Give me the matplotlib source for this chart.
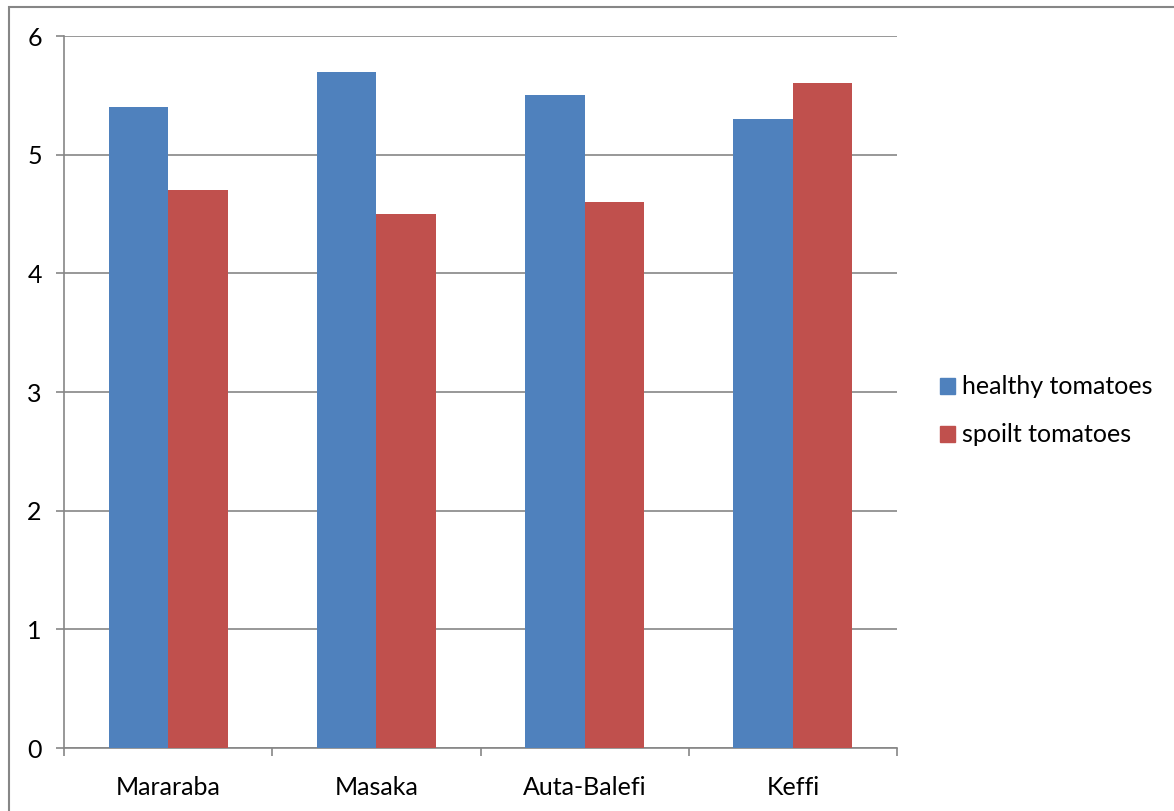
import matplotlib
matplotlib.use("Agg")
import matplotlib.pyplot as plt
from matplotlib.patches import Rectangle, Patch
import numpy as np

categories = ["Mararaba", "Masaka", "Auta-Balefi", "Keffi"]
healthy = [5.4, 5.7, 5.5, 5.3]
spoilt = [4.7, 4.5, 4.6, 5.6]
series_names = ["healthy tomatoes", "spoilt tomatoes"]
yticks = [0, 1, 2, 3, 4, 5, 6]

plt.rcParams['font.family'] = ['Lato', 'DejaVu Sans']

W, H = 1174, 811
fig = plt.figure(figsize=(W / 100, H / 100), dpi=100)
ax = fig.add_axes([64 / W, 1 - 748 / H, (897 - 64) / W, (748 - 36) / H])

grid_c = "#868686"
blue = "#4F81BD"
red = "#C0504D"

x = np.arange(len(categories))
bw = 0.286
ax.bar(x - bw / 2, healthy, bw, color=blue, zorder=3)
ax.bar(x + bw / 2, spoilt, bw, color=red, zorder=3)

ax.set_xlim(-0.5, len(categories) - 0.5)
ax.set_ylim(0, 6)
ax.set_yticks(yticks)
ax.set_yticklabels([str(t) for t in yticks], fontsize=18)
ax.yaxis.grid(True, color=grid_c, linewidth=1.2, zorder=0)
ax.set_axisbelow(True)

ax.set_xticks(np.arange(-0.5, len(categories) + 0.5, 1))
ax.set_xticklabels([])
ax.set_xticks(x, minor=True)
ax.set_xticklabels(categories, minor=True, fontsize=18)
ax.tick_params(axis='x', which='minor', length=0, pad=20)
ax.tick_params(axis='x', which='major', length=6, color=grid_c, width=1.2)
ax.tick_params(axis='y', length=6, color=grid_c, width=1.2, pad=10)

for s in ["top", "right"]:
    ax.spines[s].set_visible(False)
for s in ["left", "bottom"]:
    ax.spines[s].set_color(grid_c)
    ax.spines[s].set_linewidth(1.2)

handles = [Patch(color=blue), Patch(color=red)]
fig.legend(handles, series_names, loc="center left",
           bbox_to_anchor=(940 / W, 1 - 411 / H), frameon=False,
           fontsize=18, handlelength=0.6, handleheight=0.6,
           handletextpad=0.3, labelspacing=1.0, borderpad=0,
           borderaxespad=0)

fig.patches.append(Rectangle((9 / W, -0.1), 1.2, 1 - 7 / H + 0.1,
                             transform=fig.transFigure, fill=False,
                             edgecolor=grid_c, linewidth=1.5))

fig.savefig("out.png", dpi=100)
